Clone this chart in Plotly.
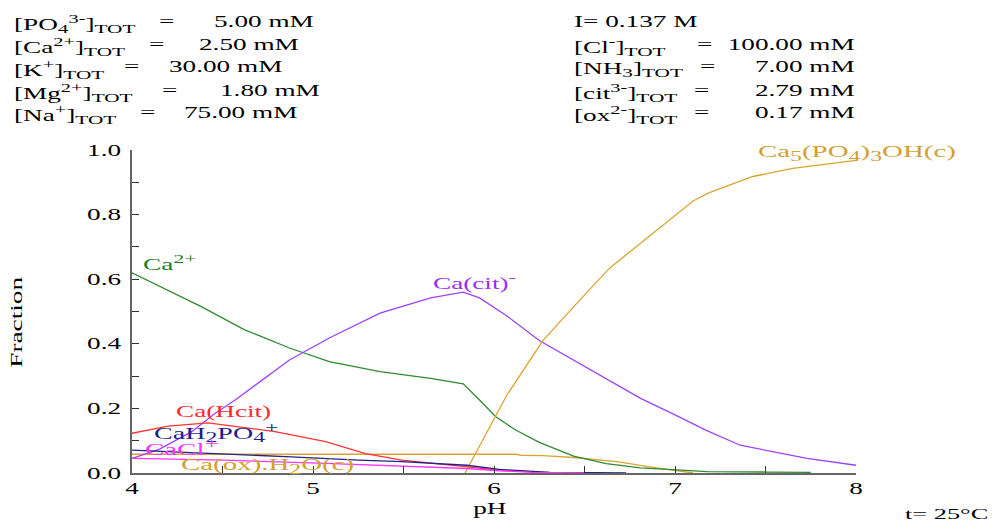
import plotly.graph_objects as go

# --- species fractions vs pH (read per species) ---
ca_ph = [4.0, 4.38, 4.62, 4.87, 5.09, 5.37, 5.65, 5.83, 5.92, 6.01, 6.12, 6.25, 6.44, 6.62, 6.81, 7.0, 7.18, 7.5, 7.75]
ca_frac = [0.62, 0.516, 0.444, 0.387, 0.345, 0.314, 0.293, 0.276, 0.226, 0.174, 0.133, 0.095, 0.052, 0.029, 0.016, 0.009, 0.004, 0.003, 0.002]

cacit_ph = [4.0, 4.15, 4.33, 4.46, 4.57, 4.87, 5.09, 5.37, 5.65, 5.83, 5.92, 6.07, 6.25, 6.44, 6.62, 6.81, 7.0, 7.17, 7.36, 7.5, 7.73, 8.0]
cacit_frac = [0.045, 0.073, 0.128, 0.185, 0.226, 0.35, 0.418, 0.495, 0.542, 0.56, 0.542, 0.487, 0.41, 0.35, 0.293, 0.231, 0.18, 0.133, 0.086, 0.07, 0.045, 0.024]

hap_ph = [5.84, 6.01, 6.07, 6.27, 6.44, 6.48, 6.64, 6.86, 7.1, 7.19, 7.43, 7.65, 7.95, 8.0]
hap_frac = [0.0, 0.174, 0.24, 0.41, 0.516, 0.539, 0.635, 0.733, 0.842, 0.868, 0.918, 0.943, 0.966, 0.968]

caox_ph = [4.0, 6.12, 6.15, 6.27, 6.44, 6.68, 6.86, 7.0, 7.1]
caox_frac = [0.058, 0.058, 0.055, 0.054, 0.048, 0.035, 0.019, 0.009, 0.0]

cahcit_ph = [4.0, 4.2, 4.42, 4.79, 5.07, 5.29, 5.49, 5.85, 6.03, 6.31, 6.6]
cahcit_frac = [0.123, 0.145, 0.155, 0.128, 0.097, 0.06, 0.04, 0.019, 0.009, 0.001, 0.0]

cah2po4_ph = [4.0, 4.48, 4.88, 5.25, 5.49, 5.85, 6.03, 6.31, 6.73]
cah2po4_frac = [0.071, 0.06, 0.05, 0.04, 0.035, 0.024, 0.011, 0.002, 0.0]

cacl_ph = [4.0, 4.51, 5.07, 5.49, 5.85, 6.03, 6.21, 6.5]
cacl_frac = [0.045, 0.04, 0.03, 0.022, 0.014, 0.007, 0.002, 0.0]

# --- axis tick labels ---
y_tickvals = [0.0, 0.2, 0.4, 0.6, 0.8, 1.0]
y_ticktext = ["0.0", "0.2", "0.4", "0.6", "0.8", "1.0"]
x_tickvals = [4, 5, 6, 7, 8]
x_ticktext = ["4", "5", "6", "7", "8"]


def sub(t, size=12.5):
    return f'<sub><span style="font-size:{size}px">{t}</span></sub>'


def sup(t, size=12):
    return f'<sup><span style="font-size:{size}px">{t}</span></sup>'


# --- header: total concentrations ---
TOT = sub("TOT")
left_names = [f"[PO{sub('4')}{sup('3-')}]{TOT}",
              f"[Ca{sup('2+')}]{TOT}",
              f"[K{sup('+')}]{TOT}",
              f"[Mg{sup('2+')}]{TOT}",
              f"[Na{sup('+')}]{TOT}"]
left_eq_x = [157, 147, 122, 160, 138]
left_values = ["5.00 mM", "2.50 mM", "30.00 mM", "1.80 mM", "75.00 mM"]
left_value_x = [212, 197, 167, 218, 182]
right_names = [f"[Cl{sup('-')}]{TOT}",
               f"[NH{sub('3')}]{TOT}",
               f"[cit{sup('3-')}]{TOT}",
               f"[ox{sup('2-')}]{TOT}"]
right_eq_x = [695, 698, 692, 692]
right_values = ["100.00 mM", "7.00 mM", "2.79 mM", "0.17 mM"]
ionic_strength = "I= 0.137 M"
temperature = "t= 25°C"

FONT = "Liberation Serif"
STRETCH = 1.7          # wide glyph rendering of all texts
W, H = 994, 520
ML, MR, MT, MB = 132, 138, 150, 47
PW, PH_ = W - ML - MR, H - MT - MB


def fx(px):
    return (px - ML) / PW


def fy(py):
    return (H - MB - py) / PH_


GREEN = "#2e8b2e"
PURPLE = "#a040ff"
GOLD = "#d9a531"
RED = "#ff3333"
NAVY = "#22228a"
MAGENTA = "#ff33ff"

fig = go.Figure()
series = [
    (caox_ph, caox_frac, GOLD),
    (ca_ph, ca_frac, GREEN),
    (cacit_ph, cacit_frac, PURPLE),
    (hap_ph, hap_frac, GOLD),
    (cahcit_ph, cahcit_frac, RED),
    (cah2po4_ph, cah2po4_frac, NAVY),
    (cacl_ph, cacl_frac, MAGENTA),
]
for xs, ys, col in series:
    fig.add_trace(go.Scatter(x=xs, y=ys, mode="lines",
                             line=dict(color=col, width=1.3),
                             showlegend=False, hoverinfo="skip"))

annotations = []


def note(text, x, y, color="#000000", xanchor="left", size=16, angle=0):
    annotations.append(dict(text=text, x=fx(x), y=fy(y), xref="paper", yref="paper",
                            showarrow=False, xanchor=xanchor, yanchor="middle",
                            align={"left": "left", "right": "right"}.get(xanchor, "center"),
                            textangle=angle,
                            font=dict(family=FONT, size=size, color=color)))


# header blocks
left_rows_y = [21, 44, 67, 90, 112]
for name, ex, val, vx, y in zip(left_names, left_eq_x, left_values, left_value_x, left_rows_y):
    note(name, 12, y + 3)
    note("=", ex, y)
    note(val, vx, y)

note(ionic_strength, 572, 21)
right_rows_y = [44, 67, 90, 112]
for name, ex, val, y in zip(right_names, right_eq_x, right_values, right_rows_y):
    note(name, 572, y + 3)
    note("=", ex, y)
    note(val, 857, y, xanchor="right")

# species labels
note(f"Ca{sup('2+', 13)}", 141, 262, color="#1f7f1f")
note(f"Ca(cit){sup('-', 13)}", 431, 281, color="#9a2cff")
note(f"Ca{sub('5', 14)}(PO{sub('4', 14)}){sub('3', 14)}OH(c)", 756, 153, color="#d4a030", size=17)
note("Ca(Hcit)", 174, 412, color="#ff2a2a")
note(f"CaH{sub('2', 14)}PO{sub('4', 14)}{sup('+', 14)}", 152, 432, color="#1f1f8a", size=16.5)
note(f"CaCl{sup('+', 15)}", 143, 447, color="#ff30ff", size=17)
note(f"Ca(ox).H{sub('2', 14)}O(c)", 179, 466, color="#d4a030", size=17)

# axis titles and temperature
note("Fraction", 16, 323, angle=-90, xanchor="center")
note("pH", 490, 509, xanchor="center")
note(temperature, 903, 513, size=15.5)

tick_common = dict(showgrid=False, zeroline=False, showline=True,
                   linecolor="#666666", linewidth=1.5, ticks="inside", ticklen=7,
                   tickcolor="#333333", tickwidth=1,
                   tickfont=dict(family=FONT, size=16, color="#000000"))

fig.update_layout(
    width=W, height=H,
    margin=dict(l=ML, r=MR, t=MT, b=MB, pad=0),
    paper_bgcolor="white", plot_bgcolor="white",
    font=dict(family=FONT, size=16, color="#000000"),
    annotations=annotations,
    xaxis=dict(range=[4, 8], tickvals=x_tickvals, ticktext=x_ticktext,
               minor=dict(ticks="inside", ticklen=7, tickcolor="#333333",
                          tickwidth=1, dtick=0.5, tick0=4, showgrid=False),
               **tick_common),
    yaxis=dict(range=[0, 1], tickvals=y_tickvals, ticktext=y_ticktext,
               ticklabelstandoff=6,
               minor=dict(ticks="inside", ticklen=7, tickcolor="#333333",
                          tickwidth=1, dtick=0.1, tick0=0, showgrid=False),
               **tick_common),
)

# widen every text run horizontally (glyphs and spacing together)
stretch_js = """
var gd = document.getElementById('{plot_id}');
gd.querySelectorAll('svg text').forEach(function (t) {
  if (!t.textContent) { return; }
  var w = t.getComputedTextLength();
  if (w > 0) {
    t.setAttribute('textLength', (w * %s).toFixed(2));
    t.setAttribute('lengthAdjust', 'spacingAndGlyphs');
  }
});
""" % STRETCH

fig.write_html("out.html", post_script=stretch_js,
               config={"responsive": False, "displayModeBar": False})
